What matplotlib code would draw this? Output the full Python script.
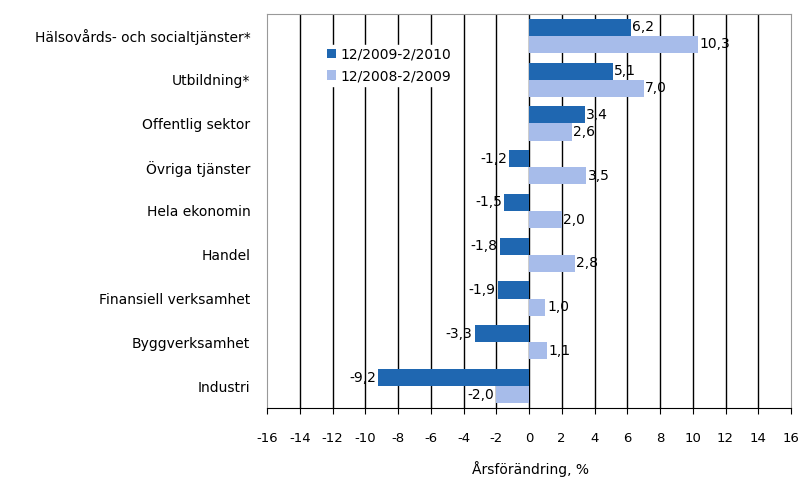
import numpy as np
import matplotlib
matplotlib.use('Agg')
from matplotlib import pyplot as plt

plt.rcParams['font.family'] = ['DejaVu Sans']

categories = ['Hälsovårds- och socialtjänster*', 'Utbildning*', 'Offentlig sektor',
              'Övriga tjänster', 'Hela ekonomin', 'Handel', 'Finansiell verksamhet',
              'Byggverksamhet', 'Industri']
series_names = ['12/2009-2/2010', '12/2008-2/2009']
values_new = [6.2, 5.1, 3.4, -1.2, -1.5, -1.8, -1.9, -3.3, -9.2]
values_old = [10.3, 7.0, 2.6, 3.5, 2.0, 2.8, 1.0, 1.1, -2.0]
ticks = np.arange(-16, 17, 2)

dark = '#1F67B1'
light = '#A7BCEA'
fs = 10

fig = plt.figure(figsize=(8, 4.79), dpi=100)
ax = fig.add_axes([267 / 800, 1 - 408 / 479, (791 - 267) / 800, (408 - 14) / 479])

n = len(categories)
y = np.arange(n)[::-1]
h = 0.39
bars_new = ax.barh(y + h / 2, values_new, height=h, color=dark, label=series_names[0], zorder=3)
bars_old = ax.barh(y - h / 2, values_old, height=h, color=light, label=series_names[1], zorder=3)

def fmt(v):
    return f'{v:.1f}'.replace('.', ',')

for bars, vals in [(bars_new, values_new), (bars_old, values_old)]:
    for b, v in zip(bars, vals):
        yc = b.get_y() + b.get_height() / 2
        if v >= 0:
            ax.text(v + 0.1, yc, fmt(v), ha='left', va='center', fontsize=fs, zorder=4)
        else:
            ax.text(v - 0.15, yc, fmt(v), ha='right', va='center', fontsize=fs, zorder=4)

ax.set_xlim(-16, 16)
ax.set_ylim(-0.5, n - 0.5)
ax.set_xticks(ticks)
ax.set_xticklabels([str(t) for t in ticks], fontsize=9.5)
ax.set_yticks(y)
ax.set_yticklabels(categories, fontsize=fs)
ax.tick_params(axis='y', length=0, pad=12)
ax.tick_params(axis='x', length=4, direction='out', pad=13)

for t in ticks[1:-1]:
    ax.axvline(t, color='black', lw=1, zorder=1)

for side in ['top', 'left', 'right']:
    ax.spines[side].set_color('#999999')
ax.spines['bottom'].set_color('black')

fig.text(530 / 800, 1 - 469 / 479, 'Årsförändring, %', fontsize=fs, ha='center', va='center')

leg = ax.legend(loc='upper left', bbox_to_anchor=(0.095, 0.94), frameon=True, fontsize=fs,
                handlelength=0.7, handleheight=0.7, handletextpad=0.3, borderpad=0.2,
                labelspacing=0.55, fancybox=False)
leg.get_frame().set_edgecolor('white')
leg.get_frame().set_facecolor('white')
leg.get_frame().set_alpha(1)
leg.set_zorder(5)

fig.savefig('out.png', dpi=100)
